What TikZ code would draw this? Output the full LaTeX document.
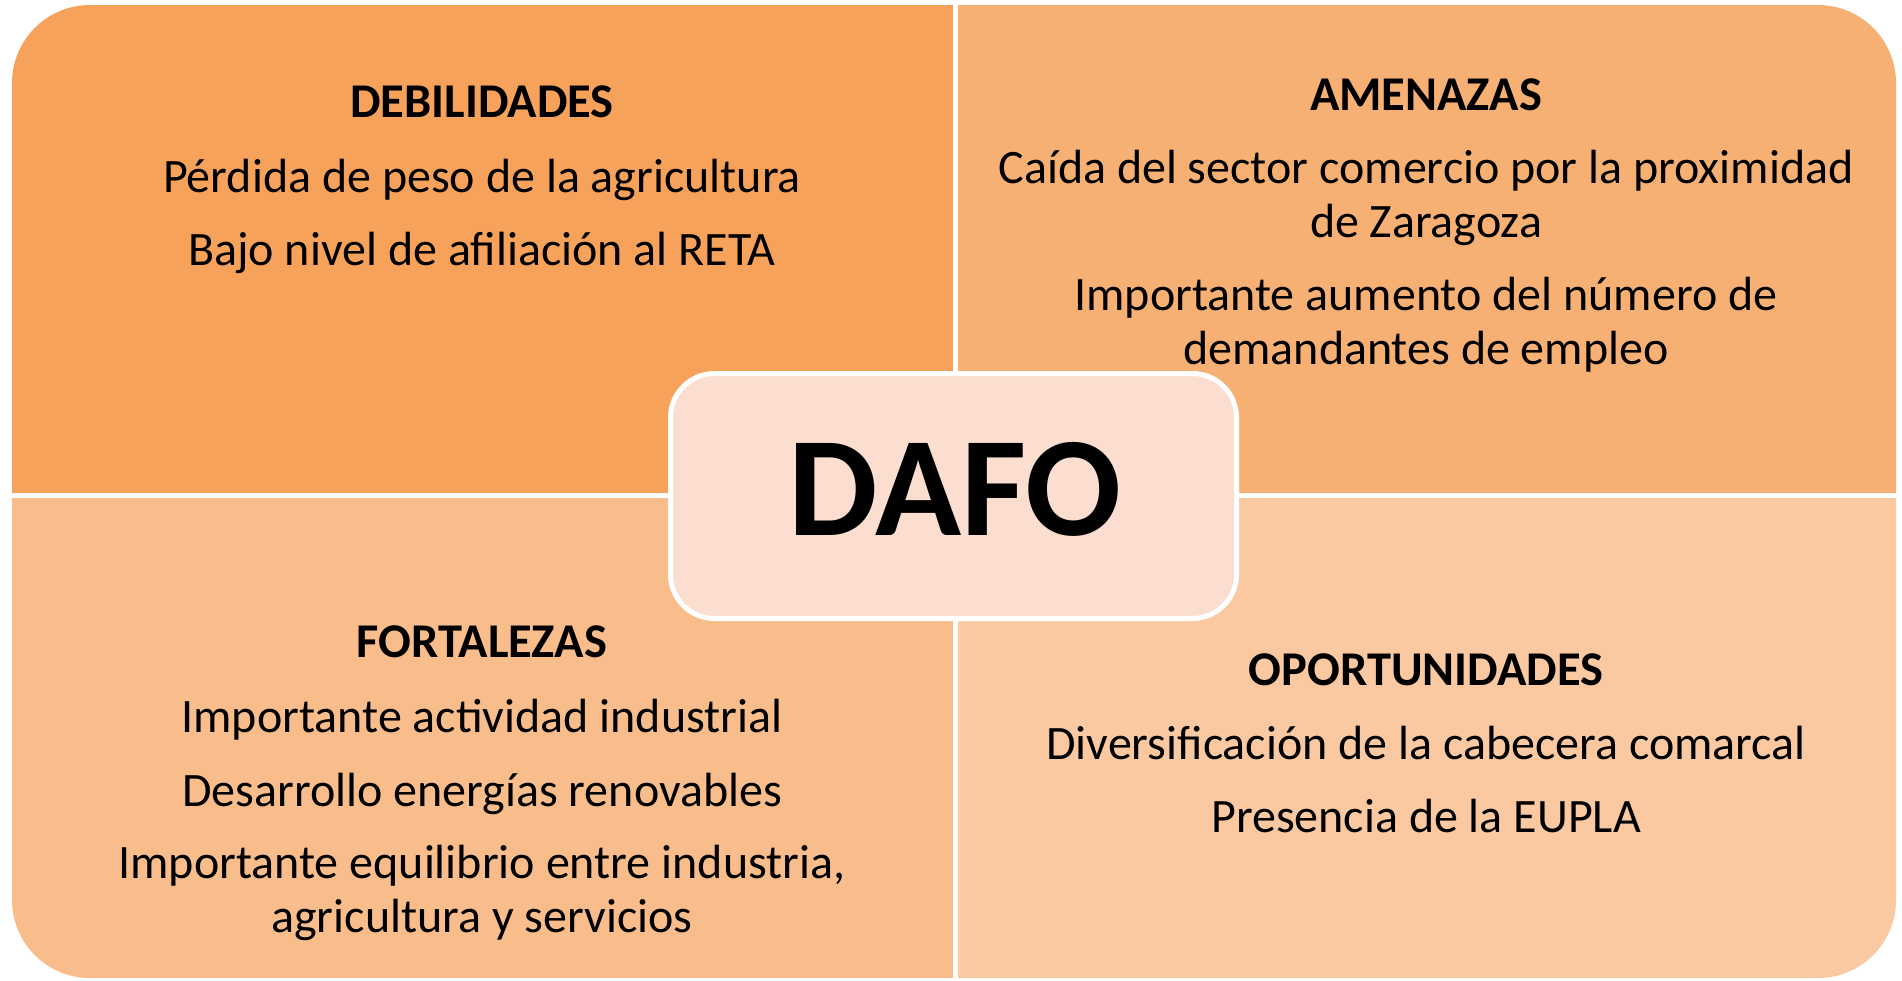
\documentclass[tikz,border=0pt]{standalone}
\usepackage{fontspec}
\setmainfont{Carlito}
\definecolor{qTL}{HTML}{F7A25A}
\definecolor{qTR}{HTML}{F7B074}
\definecolor{qBL}{HTML}{F8BD8B}
\definecolor{qBR}{HTML}{FAC9A1}
\definecolor{qC}{HTML}{FCDED0}
\tikzset{
  body/.style={anchor=base, inner sep=0pt, font=\fontsize{48}{56}\selectfont},
  head/.style={anchor=base, inner sep=0pt, font=\fontsize{48.5}{56}\selectfont\bfseries},
  divider/.style={draw=white, line width=5pt},
}
\begin{document}
\begin{tikzpicture}[x=1pt,y=-1pt]
\useasboundingbox (0,0) rectangle (1902,980);
\begin{scope}
  \clip[rounded corners=78pt] (12,5) rectangle (1896,978);
  \fill[qTL] (0,0) rectangle (955,495);
  \fill[qTR] (955,0) rectangle (1902,495);
  \fill[qBL] (0,495) rectangle (955,980);
  \fill[qBR] (955,495) rectangle (1902,980);
\end{scope}
\draw[divider] (955,0) -- (955,980);
\draw[divider] (0,495) -- (1902,495);
% top-left
\node[head] (tlh) at (482,117) {DEBILIDADES};
\node[body] (tl1) at (482,192) {Pérdida de peso de la agricultura};
\node[body] (tl2) at (482,265) {Bajo nivel de afiliación al RETA};
% top-right
\node[head] (trh) at (1426,110) {AMENAZAS};
\node[body] (tr1) at (1426,183) {Caída del sector comercio por la proximidad};
\node[body] (tr2) at (1426,237) {de Zaragoza};
\node[body] (tr3) at (1426,310) {Importante aumento del número de};
\node[body] (tr4) at (1426,364) {demandantes de empleo};
% bottom-left
\node[head] (blh) at (482,657) {FORTALEZAS};
\node[body] (bl1) at (482,732) {Importante actividad industrial};
\node[body] (bl2) at (482,806) {Desarrollo energías renovables};
\node[body] (bl3) at (482,878) {Importante equilibrio entre industria,};
\node[body] (bl4) at (482,932) {agricultura y servicios};
% bottom-right
\node[head] (brh) at (1426,685) {OPORTUNIDADES};
\node[body] (br1) at (1426,759) {Diversificación de la cabecera comarcal};
\node[body] (br2) at (1426,832) {Presencia de la EUPLA};
% center
\draw[draw=white, line width=5pt, fill=qC, rounded corners=44pt] (670.5,373.5) rectangle (1236.5,618.5);
\node[anchor=base, inner sep=0pt, font=\fontsize{142}{160}\selectfont\bfseries] (dafo) at (955,535) {DAFO};
\end{tikzpicture}
\end{document}
